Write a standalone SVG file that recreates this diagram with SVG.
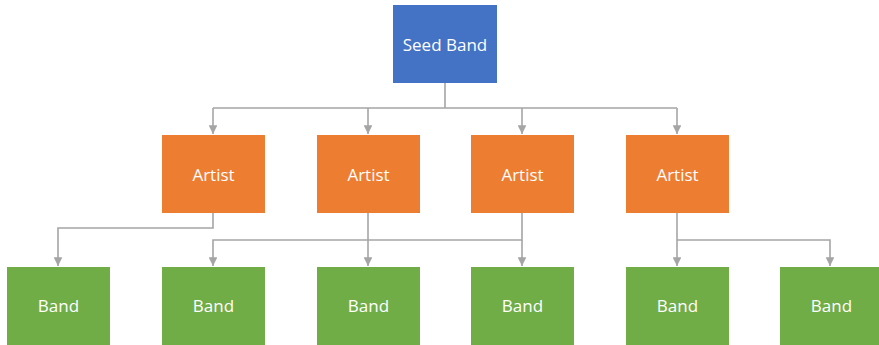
<svg xmlns="http://www.w3.org/2000/svg" width="879" height="345" viewBox="0 0 879 345">
  <style>
    .seed { fill: #4472C4; }
    .artist { fill: #ED7D31; }
    .band { fill: #70AD47; }
    .label { font-family: "Open Sans", "Noto Sans", sans-serif; font-size: 17px; fill: #ffffff; text-anchor: middle; dominant-baseline: central; }
    .link { fill: none; stroke: #A5A5A5; stroke-width: 1.6; marker-end: url(#arrow); }
    .line { fill: none; stroke: #A5A5A5; stroke-width: 1.6; }
  </style>
  <defs>
    <marker id="arrow" viewBox="0 0 10 10" refX="10" refY="5" markerWidth="5.5" markerHeight="5.5" orient="auto" markerUnits="strokeWidth">
      <path d="M0,0 L10,5 L0,10 Z" fill="#A5A5A5"/>
    </marker>
  </defs>

  <rect width="879" height="345" fill="#ffffff"/>

  <!-- connectors -->
  <g id="connectors">
    <path class="line" d="M445,83 V108 M213,108 H677"/>
    <path class="link" d="M213,108 V134"/>
    <path class="link" d="M368,108 V134"/>
    <path class="link" d="M522,108 V134"/>
    <path class="link" d="M677,108 V134"/>

    <path class="link" d="M213,213 V228 H58 V266"/>
    <path class="link" d="M368,213 V266"/>
    <path class="link" d="M522,213 V240 H213 V266"/>
    <path class="link" d="M522,240 V266"/>
    <path class="link" d="M677,213 V266"/>
    <path class="link" d="M677,240 H830 V266"/>
  </g>

  <!-- nodes -->
  <g id="seed-band">
    <rect class="seed" x="393" y="5" width="104" height="78"/>
    <text class="label" x="445" y="44">Seed Band</text>
  </g>

  <g id="artist-1">
    <rect class="artist" x="162" y="135" width="103" height="78"/>
    <text class="label" x="213.5" y="174">Artist</text>
  </g>
  <g id="artist-2">
    <rect class="artist" x="317" y="135" width="103" height="78"/>
    <text class="label" x="368.5" y="174">Artist</text>
  </g>
  <g id="artist-3">
    <rect class="artist" x="471" y="135" width="103" height="78"/>
    <text class="label" x="522.5" y="174">Artist</text>
  </g>
  <g id="artist-4">
    <rect class="artist" x="626" y="135" width="103" height="78"/>
    <text class="label" x="677.5" y="174">Artist</text>
  </g>

  <g id="band-1">
    <rect class="band" x="7" y="267" width="103" height="78"/>
    <text class="label" x="58.5" y="305">Band</text>
  </g>
  <g id="band-2">
    <rect class="band" x="162" y="267" width="103" height="78"/>
    <text class="label" x="213.5" y="305">Band</text>
  </g>
  <g id="band-3">
    <rect class="band" x="317" y="267" width="103" height="78"/>
    <text class="label" x="368.5" y="305">Band</text>
  </g>
  <g id="band-4">
    <rect class="band" x="471" y="267" width="103" height="78"/>
    <text class="label" x="522.5" y="305">Band</text>
  </g>
  <g id="band-5">
    <rect class="band" x="626" y="267" width="103" height="78"/>
    <text class="label" x="677.5" y="305">Band</text>
  </g>
  <g id="band-6">
    <rect class="band" x="780" y="267" width="103" height="78"/>
    <text class="label" x="831.5" y="305">Band</text>
  </g>
</svg>
